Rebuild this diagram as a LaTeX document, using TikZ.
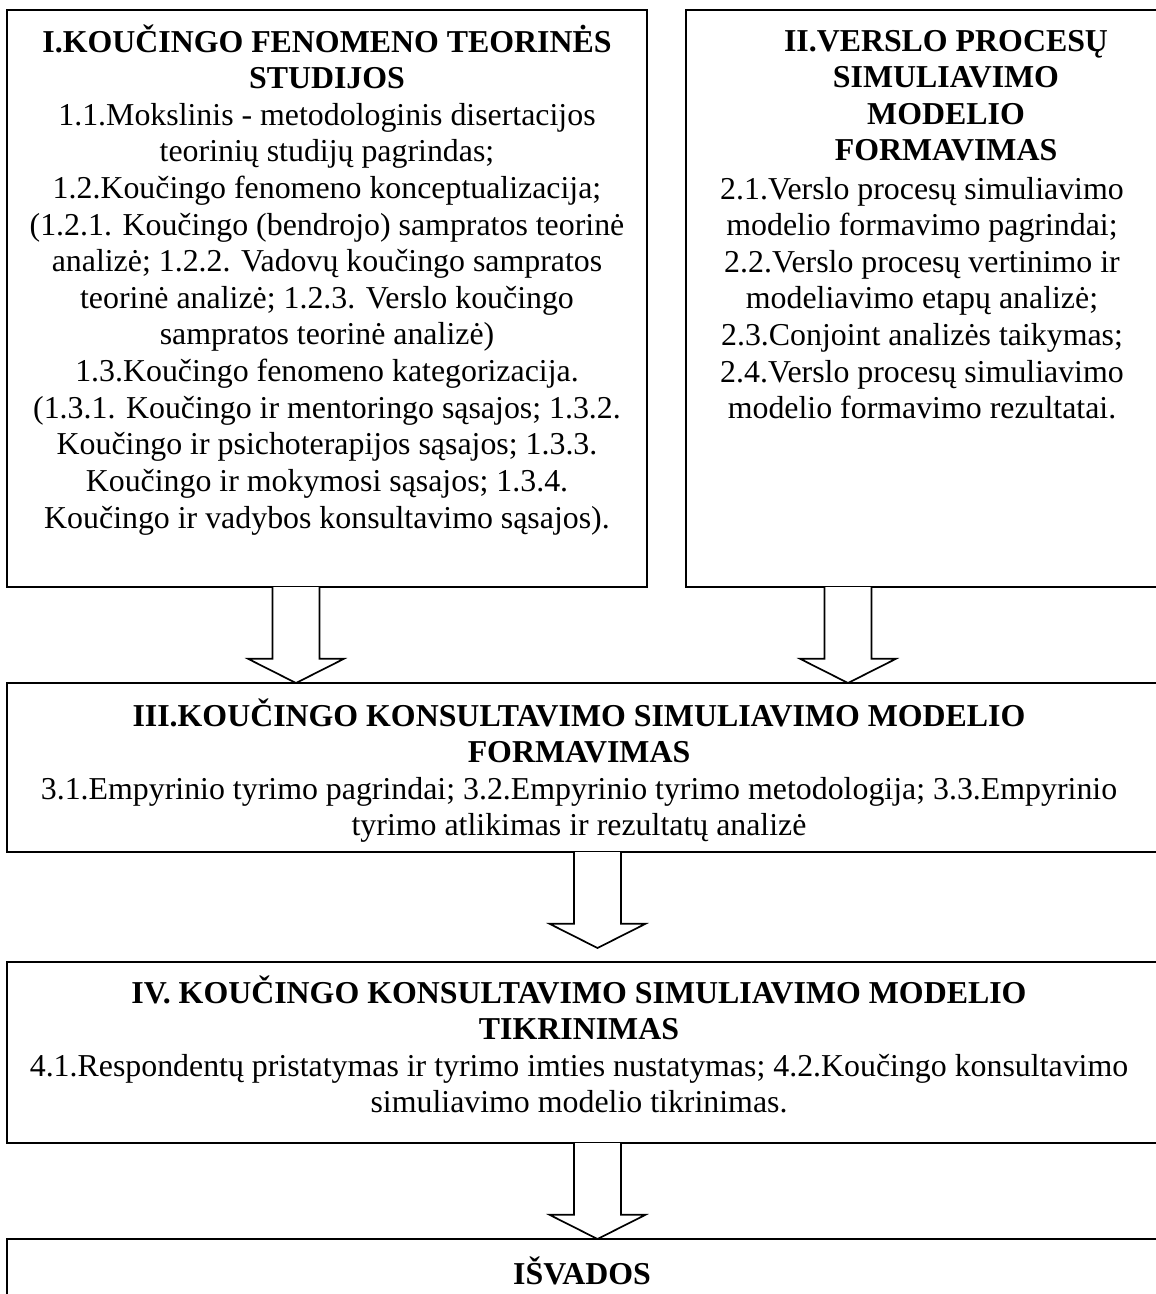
\documentclass[tikz,border=0pt]{standalone}
\usepackage{fontspec}
\setmainfont{Liberation Serif}
\usetikzlibrary{calc}
% block arrow from a start point (on a box bottom) down to a tip point
\newcommand\BlockArrow[2]{%
  \draw[blockarrowline] let \p1=(#1), \p2=(#2) in
    (\x1-10.4pt,\y1) -- (\x1-10.4pt,\y2+10.7pt) -- (\x1-21.2pt,\y2+10.7pt)
    -- (\x1,\y2) -- (\x1+21.2pt,\y2+10.7pt) -- (\x1+10.4pt,\y2+10.7pt)
    -- (\x1+10.4pt,\y1);}
\begin{document}
\begin{tikzpicture}[x=0.4425pt,y=-0.4425pt,
  boxnode/.style={draw, line width=0.95pt, inner sep=0pt, outer sep=0pt, anchor=north west},
  txt/.style={font=\fontsize{14.1}{16.2}\selectfont, align=center, inner sep=0pt, anchor=north},
  blockarrowline/.style={draw, line width=0.75pt, fill=white, line join=miter}]
\useasboundingbox (0,0) rectangle (1156,1294);
\clip (0,0) rectangle (1156,1294);
\fill[white] (0,0) rectangle (1156,1294);

% boxes
\node[boxnode, minimum width=640*0.4425pt, minimum height=577*0.4425pt] (b1) at (7,10) {};
\node[boxnode, minimum width=474*0.4425pt, minimum height=577*0.4425pt] (b2) at (686,10) {};
\node[boxnode, minimum width=1153*0.4425pt, minimum height=169*0.4425pt] (b3) at (7,683) {};
\node[boxnode, minimum width=1153*0.4425pt, minimum height=181*0.4425pt] (b4) at (7,962) {};
\node[boxnode, minimum width=1153*0.4425pt, minimum height=100*0.4425pt] (b5) at (7,1239) {};

% texts
\node[txt] (t1) at (327,24) {\strut\textbf{I.KOUČINGO FENOMENO TEORINĖS}\\
\textbf{STUDIJOS}\\
1.1.Mokslinis - metodologinis disertacijos\\
teorinių studijų pagrindas;\\
1.2.Koučingo fenomeno konceptualizacija;\\
(1.2.1. Koučingo (bendrojo) sampratos teorinė\\
analizė; 1.2.2. Vadovų koučingo sampratos\\
teorinė analizė; 1.2.3. Verslo koučingo\\
sampratos teorinė analizė)\\
1.3.Koučingo fenomeno kategorizacija.\\
(1.3.1. Koučingo ir mentoringo sąsajos; 1.3.2.\\
Koučingo ir psichoterapijos sąsajos; 1.3.3.\\
Koučingo ir mokymosi sąsajos; 1.3.4.\\
Koučingo ir vadybos konsultavimo sąsajos).};

\node[txt, font=\fontsize{14.1}{16.2}\selectfont\bfseries] (t2h) at (946,25) {\strut II.VERSLO PROCESŲ\\
SIMULIAVIMO\\
MODELIO\\
FORMAVIMAS};
\node[txt] (t2) at (922,173) {\strut 2.1.Verslo procesų simuliavimo\\
modelio formavimo pagrindai;\\
2.2.Verslo procesų vertinimo ir\\
modeliavimo etapų analizė;\\
2.3.Conjoint analizės taikymas;\\
2.4.Verslo procesų simuliavimo\\
modelio formavimo rezultatai.};

\node[txt] (t3) at (579,698) {\strut\textbf{III.KOUČINGO KONSULTAVIMO SIMULIAVIMO MODELIO}\\
\textbf{FORMAVIMAS}\\
3.1.Empyrinio tyrimo pagrindai; 3.2.Empyrinio tyrimo metodologija; 3.3.Empyrinio\\
tyrimo atlikimas ir rezultatų analizė};

\node[txt] (t4) at (579,975) {\strut\textbf{IV. KOUČINGO KONSULTAVIMO SIMULIAVIMO MODELIO}\\
\textbf{TIKRINIMAS}\\
4.1.Respondentų pristatymas ir tyrimo imties nustatymas; 4.2.Koučingo konsultavimo\\
simuliavimo modelio tikrinimas.};

\node[txt] (t5) at (582,1256) {\strut\textbf{IŠVADOS}};

% arrow axes
\coordinate (c1) at (296,0);
\coordinate (c2) at (848,0);
\coordinate (c3) at (597.5,0);

% block arrows
\BlockArrow{b1.south -| c1}{b3.north -| c1}
\BlockArrow{b2.south -| c2}{b3.north -| c2}
\BlockArrow{b3.south -| c3}{$(b4.north -| c3)+(0,-14)$}
\BlockArrow{b4.south -| c3}{b5.north -| c3}
\end{tikzpicture}
\end{document}
